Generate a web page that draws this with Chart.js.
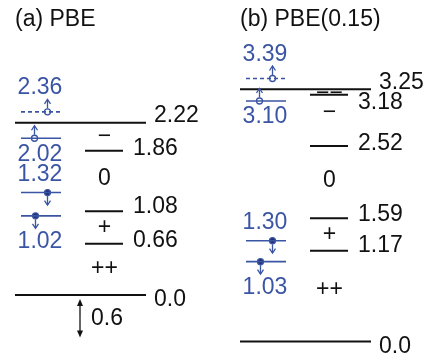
<!DOCTYPE html>
<html><head><meta charset="utf-8">
<script src="https://cdn.jsdelivr.net/npm/chart.js@4"></script>
<style>html,body{margin:0;padding:0;background:#fff;}#wrap{width:430px;height:362px;position:relative;}</style>
</head><body><div id="wrap"><canvas id="c" width="430" height="362"></canvas></div>
<script>
// ---------------- data (eV) ----------------
const panelTitles = ['(a) PBE', '(b) PBE(0.15)'];
const bandEdgesA = [0.0, 2.22];            // VBM, CBM
const bandEdgesB = [0.0, 3.25];
const transitionLevelsA = [1.86, 1.08, 0.66];
const transitionLevelsB = [3.18, 2.52, 1.59, 1.17];
const chargeStatesA = ['−', '0', '+', '++'];
const chargeStatesB = ['−−', '−', '0', '+', '++'];
const ksLevelsA = [2.36, 2.02, 1.32, 1.02];
const ksLevelsB = [3.39, 3.10, 1.30, 1.03];
const ksOccupiedA = [false, false, true, true];
const ksOccupiedB = [false, false, true, true];
const vbmShift = 0.6;                      // VBM offset of (b) relative to (a)

// ---------------- layout / style ----------------
const FONT = '23px "Liberation Sans", Arial, Helvetica, sans-serif';
const BLACK = '#111111', BLUE = '#3b55a5', NAVY = '#1f2e6e';
const PX_PER_EV = 77.6, VBM_A_PX = 295, H = 362, W = 430;
const L = {
  panelX: [0, 225],
  titleX: 15, titleY: 20,
  edgeLabelDy: [5, -7],
  edgeLine: [15, 146], edgeLabelX: 154,
  transLine: [85, 123], transLabelX: 133,
  transLabelDy: [[-2, -5, -3.5], [8, -2, -4, -5]],
  chargeX: 104.5, chargeDy: [[0, -2, 0, -1], [2, -8, -1, 0, -7]],
  ksLine: [21, 61], ksMarkerX: [47.5, 34.5, 47.5, 35.5], ksLabelX: 40,
  ksLabelSide: [-1, 1, -1, 1], markerR: 3, arrowLen: 12.5,
  shiftArrowX: 80, shiftLabelX: 91, shiftInset: 4
};

const panels = [
  {title: panelTitles[0], edges: bandEdgesA, trans: transitionLevelsA, charges: chargeStatesA, ks: ksLevelsA, occ: ksOccupiedA, axis: 'ya'},
  {title: panelTitles[1], edges: bandEdgesB, trans: transitionLevelsB, charges: chargeStatesB, ks: ksLevelsB, occ: ksOccupiedB, axis: 'yb'}
];

const fmt = v => v === 0 ? '0.0' : v.toFixed(2);
const seg = (x0, x1, y, axis, color, width, dash) => ({
  type: 'scatter', showLine: true, yAxisID: axis, data: [{x: x0, y}, {x: x1, y}],
  borderColor: color, borderWidth: width, borderDash: dash || [], pointRadius: 0, pointHoverRadius: 0, fill: false
});

const datasets = [];
panels.forEach((p, i) => {
  const off = L.panelX[i];
  const cbm = p.edges[1];
  p.edges.forEach(v => datasets.push(seg(off + L.edgeLine[0], off + L.edgeLine[1], v, p.axis, BLACK, 2)));
  p.trans.forEach(v => datasets.push(seg(off + L.transLine[0], off + L.transLine[1], v, p.axis, BLACK, 2)));
  p.ks.forEach(v => datasets.push(seg(off + L.ksLine[0], off + L.ksLine[1], v, p.axis, BLUE, 1.6, v > cbm ? [4, 3] : [])));
  datasets.push({
    type: 'scatter', yAxisID: p.axis,
    data: p.ks.map((v, k) => ({x: off + L.ksMarkerX[k], y: v})),
    pointRadius: L.markerR, pointHoverRadius: L.markerR, pointBorderWidth: 1.3,
    pointBorderColor: BLUE,
    pointBackgroundColor: p.occ.map(o => o ? NAVY : '#ffffff')
  });
});

function arrow(ctx, x, y0, y1, filled) {
  const dir = Math.sign(y1 - y0);
  ctx.beginPath(); ctx.moveTo(x, y0); ctx.lineTo(x, filled ? y1 - dir * 3 : y1); ctx.stroke();
  ctx.beginPath();
  if (filled) {
    ctx.moveTo(x, y1); ctx.lineTo(x - 3, y1 - dir * 7); ctx.lineTo(x + 3, y1 - dir * 7); ctx.closePath(); ctx.fill();
  } else {
    ctx.moveTo(x - 3, y1 - dir * 4.5); ctx.lineTo(x, y1); ctx.lineTo(x + 3, y1 - dir * 4.5); ctx.stroke();
  }
}

const annot = {
  id: 'annot',
  afterDatasetsDraw(chart) {
    const ctx = chart.ctx, xs = chart.scales.x;
    ctx.save();
    ctx.font = FONT; ctx.textBaseline = 'middle';
    panels.forEach((p, i) => {
      const off = L.panelX[i], ys = chart.scales[p.axis];
      const py = v => ys.getPixelForValue(v);
      ctx.fillStyle = BLACK; ctx.textAlign = 'left';
      ctx.fillText(p.title, xs.getPixelForValue(off + L.titleX), L.titleY);
      p.edges.forEach((v, k) => ctx.fillText(fmt(v), xs.getPixelForValue(off + L.edgeLabelX), py(v) + L.edgeLabelDy[k]));
      p.trans.forEach((v, k) => ctx.fillText(fmt(v), xs.getPixelForValue(off + L.transLabelX), py(v) + L.transLabelDy[i][k]));
      const lv = [p.edges[1], ...p.trans, p.edges[0]].sort((a, b) => b - a);
      ctx.textAlign = 'center';
      p.charges.forEach((c, k) => {
        const mid = (lv[k] + lv[k + 1]) / 2;
        ctx.fillText(c, xs.getPixelForValue(off + L.chargeX), py(mid) + L.chargeDy[i][k]);
      });
      ctx.strokeStyle = BLUE; ctx.fillStyle = BLUE; ctx.lineWidth = 1.3;
      p.ks.forEach((v, k) => {
        const x = xs.getPixelForValue(off + L.ksMarkerX[k]), y = py(v);
        const dir = p.occ[k] ? 1 : -1;
        arrow(ctx, x, y + dir * (L.markerR + 0.5), y + dir * L.arrowLen, false);
        const side = L.ksLabelSide[k];
        const dy = side === dir ? (side < 0 ? -24 : 26) : (side < 0 ? -18 : 16);
        ctx.fillText(fmt(v), xs.getPixelForValue(off + L.ksLabelX), y + dy);
      });
    });
    const ya = chart.scales.ya;
    const x = xs.getPixelForValue(L.shiftArrowX);
    const y0 = ya.getPixelForValue(0) + L.shiftInset, y1 = ya.getPixelForValue(-vbmShift) - L.shiftInset;
    ctx.strokeStyle = BLACK; ctx.fillStyle = BLACK; ctx.lineWidth = 1.3;
    const ym = (y0 + y1) / 2;
    arrow(ctx, x, ym, y0, true); arrow(ctx, x, ym, y1, true);
    ctx.textAlign = 'left';
    ctx.fillText(vbmShift.toFixed(1), xs.getPixelForValue(L.shiftLabelX), ya.getPixelForValue(-vbmShift / 2));
    ctx.restore();
  }
};

const yaMin = (VBM_A_PX - H) / PX_PER_EV, yaMax = VBM_A_PX / PX_PER_EV;
new Chart(document.getElementById('c'), {
  type: 'scatter',
  data: {datasets},
  options: {
    responsive: false, animation: false, devicePixelRatio: 1,
    layout: {padding: 0, autoPadding: false},
    plugins: {legend: {display: false}, tooltip: {enabled: false}},
    events: [],
    scales: {
      x: {type: 'linear', min: 0, max: W, display: false},
      ya: {type: 'linear', axis: 'y', min: yaMin, max: yaMax, display: false},
      yb: {type: 'linear', axis: 'y', min: yaMin + vbmShift, max: yaMax + vbmShift, display: false}
    }
  },
  plugins: [annot]
});
</script>
</body></html>
